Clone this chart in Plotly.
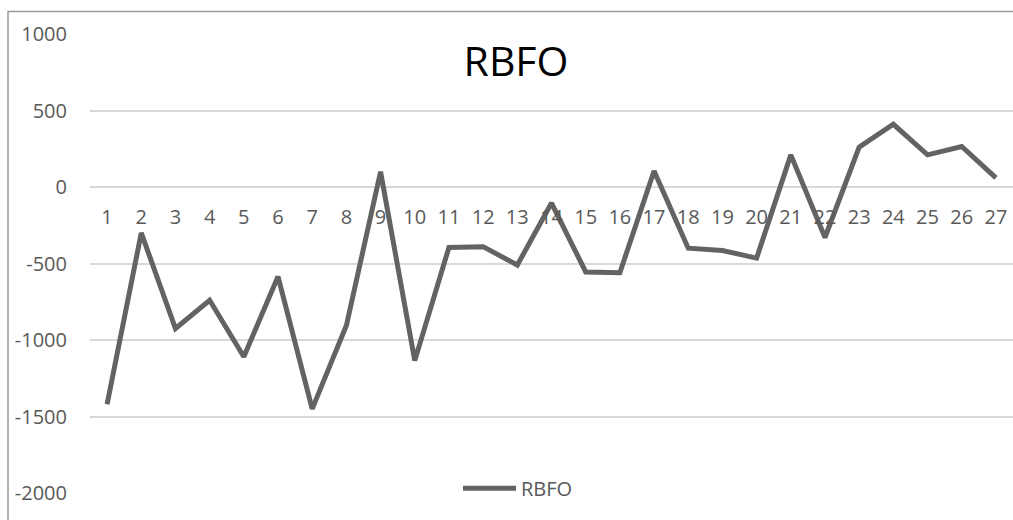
import plotly.graph_objects as go

categories = [str(i) for i in range(1, 28)]
x_pos = list(range(1, 28))
rbfo = [-1420, -300, -925, -740, -1110, -585, -1450, -905, 100, -1135,
        -395, -390, -510, -105, -555, -560, 105, -400, -415, -465,
        210, -330, 260, 410, 210, 265, 60]
y_ticks = [-2000, -1500, -1000, -500, 0, 500, 1000]
y_ticktext = ["-2000", "-1500", "-1000", "-500", "0", "500", "1000"]

W, H = 1013, 520
ml, mr, mt, mb = 90, 0, 33.5, 27.3
pw = W - ml - mr
ph = H - mt - mb

fig = go.Figure()
fig.add_trace(go.Scatter(
    x=x_pos, y=rbfo, mode="lines", name="RBFO",
    line=dict(color="#636363", width=5),
))

fig.update_layout(
    width=W, height=H,
    margin=dict(l=ml, r=mr, t=mt, b=mb, autoexpand=False),
    paper_bgcolor="white", plot_bgcolor="white",
    font=dict(family="Open Sans, sans-serif", size=20, color="#595959"),
    title=dict(text="RBFO", x=516 / W, xanchor="center", xref="container",
               y=1 - 47 / H, yanchor="top", yref="container",
               font=dict(size=41, color="#000000")),
    showlegend=True,
    legend=dict(orientation="h", x=(458 - ml) / pw, xanchor="left",
                y=(H - mb - 488) / ph, yanchor="middle",
                bgcolor="rgba(0,0,0,0)", itemwidth=53,
                font=dict(size=20, color="#595959")),
    xaxis=dict(
        range=[0.5, 27.5], tickvals=x_pos, ticktext=categories,
        showgrid=False, zeroline=False, showline=False,
        anchor="free", position=2 / 3, ticks="", ticklabelstandoff=16,
        tickfont=dict(size=20, color="#595959"),
    ),
    yaxis=dict(
        range=[-2000, 1000], tickvals=y_ticks, ticktext=y_ticktext,
        showgrid=True,
        gridcolor="#D9D9D9", gridwidth=1.5, zeroline=False, showline=False,
        ticks="", ticklabelstandoff=22,
        tickfont=dict(size=20, color="#595959"),
    ),
)

# outer chart border (partially outside the visible page, as in the reference)
fig.add_shape(type="rect", xref="paper", yref="paper",
              x0=(8 - ml) / pw, x1=1.2,
              y0=-0.2, y1=1 + (mt - 11) / ph,
              line=dict(color="#999999", width=1.5), layer="below")

fig.write_html(
    "out.html",
    config={"displayModeBar": False},
    post_script="document.body.style.margin='0';document.body.style.overflow='hidden';",
)
